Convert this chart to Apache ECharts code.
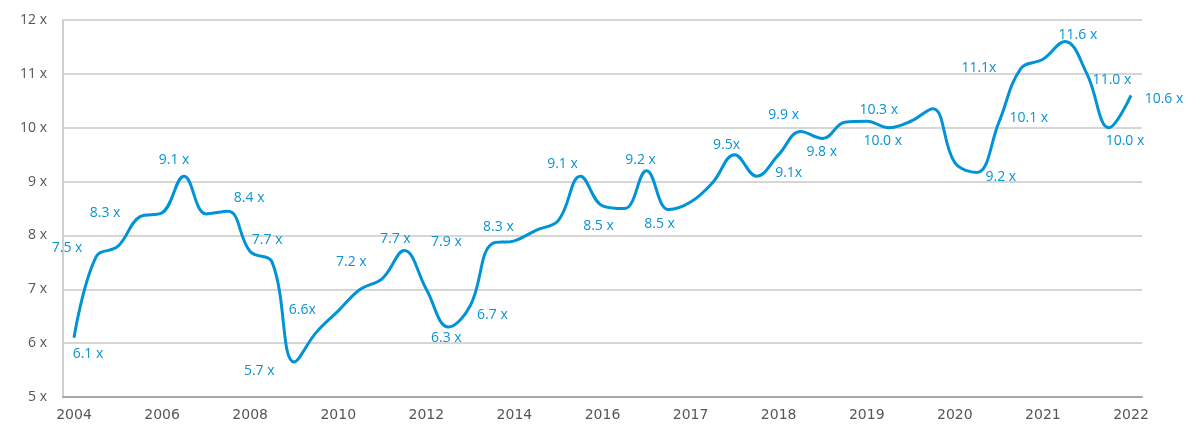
<!DOCTYPE html>
<html>
<head>
<meta charset="utf-8">
<script src="https://cdn.jsdelivr.net/npm/echarts@6/dist/echarts.min.js"></script>
<style>html,body{margin:0;padding:0;background:#fff}#c{width:1200px;height:445px}</style>
</head>
<body>
<div id="c"></div>
<script>
// Tick labels shown on the x axis (one every 4 data points)
var tickLabels = ['2004','2006','2008','2010','2012','2014','2016','2017','2018','2019','2020','2021','2022'];
// Multiple values (x), 49 equally spaced observations
var values = [6.1, 7.6, 7.8, 8.35, 8.42, 9.1, 8.4, 8.45, 7.7, 7.5,
              5.65, 6.2, 6.6, 7.0, 7.2, 7.72, 7.0, 6.3, 6.7, 7.85,
              7.9, 8.1, 8.28, 9.1, 8.55, 8.5, 9.2, 8.48, 8.62, 8.98,
              9.5, 9.1, 9.5, 9.93, 9.8, 10.1, 10.12, 10.0, 10.12, 10.35,
              9.35, 9.17, 10.1, 11.1, 11.27, 11.6, 11.0, 10.0, 10.6];
// Annotated points: data index and text
var labelIndex = [0, 1, 3, 5, 7, 8, 12, 10, 14, 15, 17, 19, 18, 20, 23, 24, 26, 27, 30, 31, 33, 34, 36, 37, 43, 41, 42, 45, 46, 47, 48];
var labelText = ['6.1 x','7.5 x','8.3 x','9.1 x','8.4 x','7.7 x','6.6x','5.7 x','7.2 x','7.7 x','6.3 x','7.9 x','6.7 x','8.3 x','9.1 x','8.5 x','9.2 x','8.5 x','9.5x','9.1x','9.9 x','9.8 x','10.3 x','10.0 x','11.1x','9.2 x','10.1 x','11.6 x','11.0 x','10.0 x','10.6 x'];
// Label placement (layout only)
var labelOffset = [[14,16],[-29,-9],[-35,-4],[-10,-16],[21,-13],[17,-12],[-36,-1],[-35,9],[-31,-16],[-9,-11],[-2,11],[-46,-1],[22,10],[-16,-14],[-18,-12],[-4,20],[-6,-11],[-9,14],[-8,-10],[32,-3],[-17,-16],[-1,14],[12,-11],[-6,13],[-42,0],[24,5],[30,-4],[13,-7],[25,6],[16,13],[33,4]];

var categories = values.map(function (v, i) { return i % 4 === 0 ? tickLabels[i / 4] : ''; });

var seriesData = values.map(function (v, i) {
  var k = labelIndex.indexOf(i);
  if (k < 0) return { value: v, label: { show: false } };
  return {
    value: v,
    label: { show: true, formatter: labelText[k], offset: labelOffset[k] }
  };
});

var chart = echarts.init(document.getElementById('c'), null, { renderer: 'canvas' });
chart.setOption({
  animation: false,
  backgroundColor: '#ffffff',
  grid: { left: 63, right: 58, top: 20, bottom: 48, containLabel: false },
  xAxis: {
    type: 'category',
    data: categories,
    boundaryGap: true,
    axisLine: { show: true, lineStyle: { color: '#a8a8a8', width: 2 } },
    axisTick: { show: false },
    axisLabel: {
      interval: 0, color: '#5b5552', fontFamily: 'DejaVu Sans', fontSize: 14, margin: 11
    },
    splitLine: { show: false }
  },
  yAxis: {
    type: 'value',
    min: 5, max: 12, interval: 1,
    axisLine: { show: true, lineStyle: { color: '#cfcfcf', width: 2 } },
    axisTick: { show: false },
    axisLabel: {
      formatter: '{value} x', color: '#555555', fontFamily: 'Open Sans', fontSize: 14, margin: 16
    },
    splitLine: { show: true, lineStyle: { color: '#d6d6d6', width: 2 } }
  },
  series: [{
    type: 'line',
    data: seriesData,
    smooth: 0.4,
    symbol: 'circle',
    symbolSize: 0.1,
    showSymbol: true,
    itemStyle: { color: 'rgba(0,0,0,0)' },
    lineStyle: { color: '#0093d6', width: 3 },
    label: {
      position: 'inside',
      color: '#0a93d3',
      fontFamily: 'Open Sans',
      fontSize: 14,
      align: 'center',
      verticalAlign: 'middle'
    },
    emphasis: { disabled: true }
  }]
});
</script>
</body>
</html>
